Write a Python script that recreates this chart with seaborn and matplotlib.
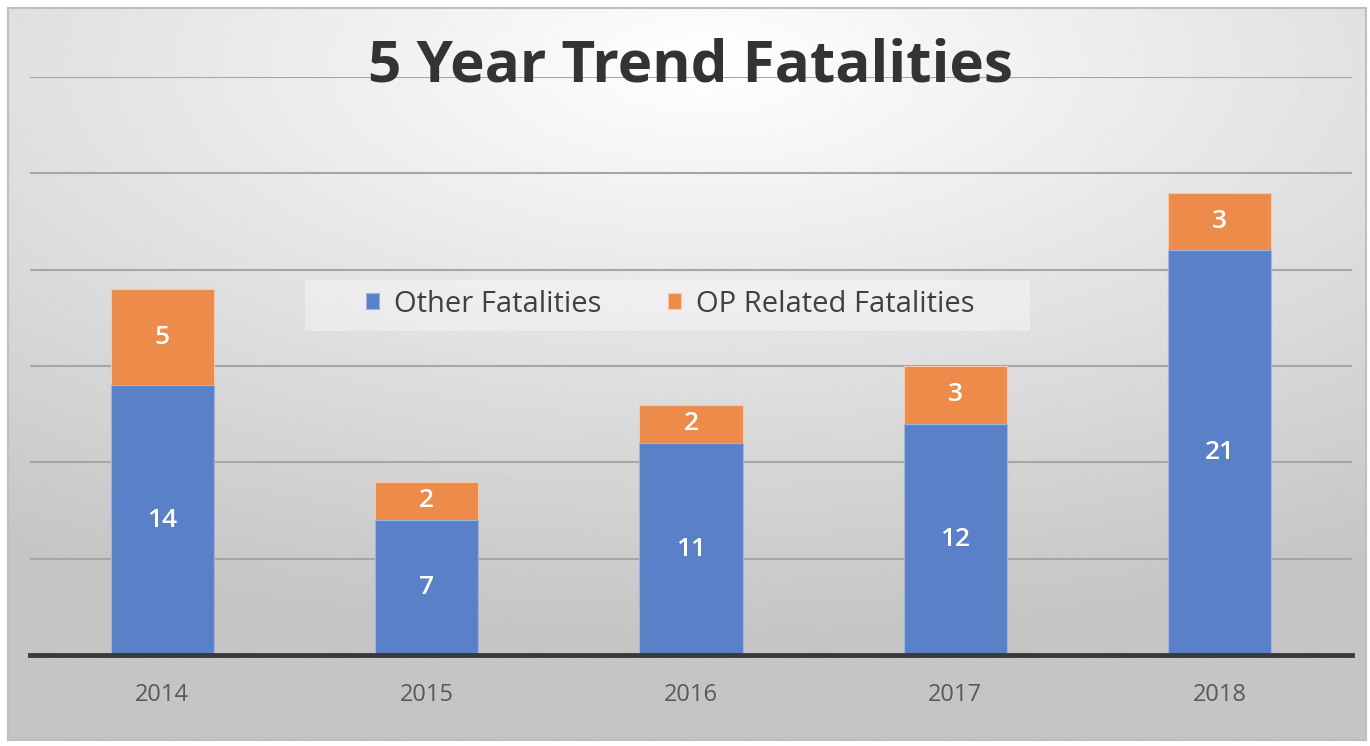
import matplotlib
matplotlib.use("Agg")
import matplotlib.pyplot as plt
from matplotlib.patches import Rectangle
import numpy as np
import pandas as pd
import seaborn as sns

years = ["2014", "2015", "2016", "2017", "2018"]
other_fatalities = [14, 7, 11, 12, 21]
op_related = [5, 2, 2, 3, 3]

BLUE = "#5A81C8"
ORANGE = "#EC8B4A"

sns.set_theme(style="white")
plt.rcParams["font.family"] = ["Open Sans", "DejaVu Sans"]

df = pd.DataFrame({"year": years, "other": other_fatalities, "op": op_related})
df["total"] = df["other"] + df["op"]

W, H = 1370, 746
fig = plt.figure(figsize=(W / 100, H / 100), dpi=100)
fig.patch.set_facecolor("white")

# gradient background panel
bg = fig.add_axes([8 / W, 6 / H, (W - 12) / W, (H - 14) / H])
yy, xx = np.mgrid[0:400, 0:700]
cx, cy = 360, 30
r = np.sqrt(((xx - cx) / 700) ** 2 + ((yy - cy) / 330) ** 2)
shade = np.clip(1.0 - 0.24 * r, 0.77, 1.0)
bg.imshow(shade, cmap="gray", vmin=0, vmax=1, aspect="auto", interpolation="bilinear")
bg.set_xticks([])
bg.set_yticks([])
for s in bg.spines.values():
    s.set_color("#bfbfbf")
    s.set_linewidth(1.5)

ax = fig.add_axes([30 / W, 91 / H, 1322 / W, 578 / H])
ax.patch.set_alpha(0)

sns.barplot(data=df, x="year", y="total", color=ORANGE, saturation=1, width=0.39,
            ax=ax, edgecolor="#f6c9a8", linewidth=0.8, label="OP Related Fatalities")
sns.barplot(data=df, x="year", y="other", color=BLUE, saturation=1, width=0.39,
            ax=ax, edgecolor="#9db3e0", linewidth=0.8, label="Other Fatalities")

ax.set_ylim(0, 30)
ax.set_yticks([5, 10, 15, 20, 25, 30])
ax.yaxis.grid(True, color="#a6a6a6", linewidth=1.5)
ax.set_axisbelow(True)
ax.tick_params(axis="y", left=False, labelleft=False)
ax.tick_params(axis="x", bottom=False, labelsize=17, labelcolor="#595959", pad=14)
ax.set_xlabel("")
ax.set_ylabel("")
for side in ["top", "right", "left"]:
    ax.spines[side].set_visible(False)
ax.spines["bottom"].set_color("#3a3a3a")
ax.spines["bottom"].set_linewidth(3.5)

for i, (o, p) in enumerate(zip(other_fatalities, op_related)):
    ax.text(i, o / 2, str(o), ha="center", va="center", color="white",
            fontsize=19, fontweight="semibold")
    ax.text(i, o + p / 2, str(p), ha="center", va="center", color="white",
            fontsize=19, fontweight="semibold")

# legend backdrop box, kept under the legend
ax.add_artist(Rectangle((305 / W, 1 - 331 / H), 725 / W, 51 / H,
                        transform=fig.transFigure, facecolor="white",
                        alpha=0.35, edgecolor="none", zorder=0.5))

handles, labels = ax.get_legend_handles_labels()
order = [labels.index("Other Fatalities"), labels.index("OP Related Fatalities")]
leg = ax.legend([handles[k] for k in order], [labels[k] for k in order],
                loc="center", bbox_to_anchor=(670 / W, 1 - 304 / H), bbox_transform=fig.transFigure,
                ncol=2, fontsize=21, frameon=False, handlelength=0.45, handleheight=0.45,
                columnspacing=2.3, handletextpad=0.5)
for t in leg.get_texts():
    t.set_color("#404040")

fig.text(690 / W, 1 - 66 / H, "5 Year Trend Fatalities", ha="center", va="center",
         fontsize=42, fontweight="bold", color="#333333")

fig.savefig("out.png", dpi=100)
